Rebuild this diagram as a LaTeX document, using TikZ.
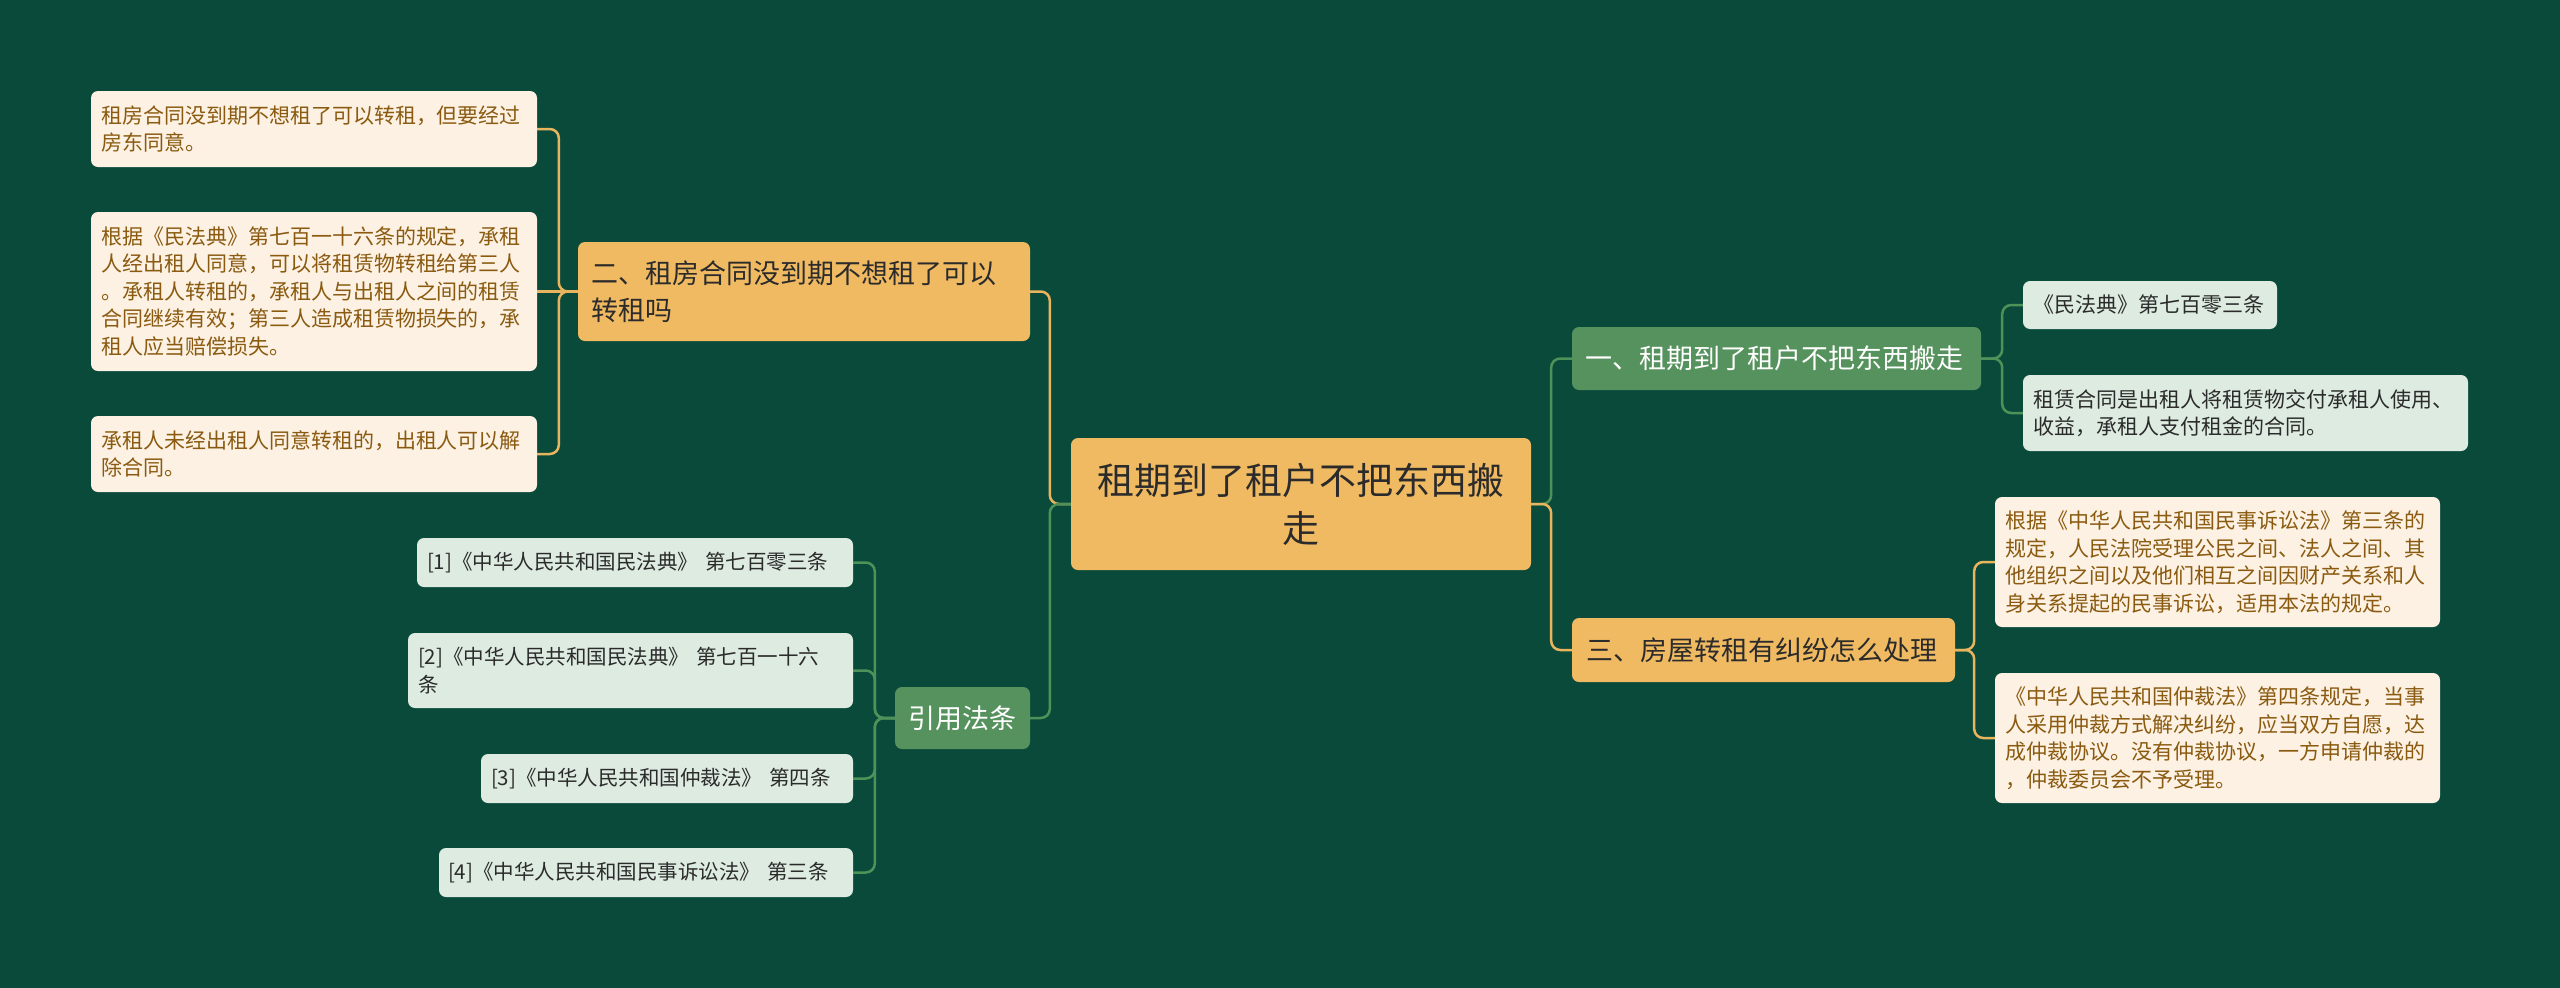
\documentclass[tikz,border=0pt]{standalone}
\usepackage{fontspec}
\setmainfont{Noto Sans CJK SC}
\usetikzlibrary{positioning,calc}
\definecolor{mapbg}{HTML}{0A4A3B}
\definecolor{maporange}{HTML}{F0BA62}
\definecolor{mapgreen}{HTML}{55925D}
\definecolor{mapcream}{HTML}{FCF1E2}
\definecolor{mapmint}{HTML}{DDEBE0}
\definecolor{mapbrown}{HTML}{8A5A10}
\definecolor{mapdark}{HTML}{2B2B2B}
\definecolor{lineorange}{HTML}{E8B55E}
\definecolor{linegreen}{HTML}{4F9259}
\tikzset{
  card/.style={rounded corners=7pt,inner ysep=0pt,align=left},
  wh/.style 2 args={minimum width=#1pt,minimum height=#2pt},
  rootbox/.style={card,fill=maporange,text=mapdark,align=center,inner xsep=20pt,font=\fontsize{37}{48}\selectfont},
  topicor/.style={card,fill=maporange,text=mapdark,inner xsep=13pt,font=\fontsize{27}{37}\selectfont},
  topicgr/.style={card,fill=mapgreen,text=white,inner xsep=13pt,font=\fontsize{27}{37}\selectfont},
  notecr/.style={card,fill=mapcream,text=mapbrown,inner xsep=10pt,font=\fontsize{21}{27.5}\selectfont},
  notemt/.style={card,fill=mapmint,text=mapdark,inner xsep=10pt,font=\fontsize{21}{27.5}\selectfont},
  citemt/.style={notemt,font=\fontsize{20.5}{27.5}\selectfont},
  lnor/.style={draw=lineorange,line width=2.5pt,rounded corners=9pt},
  lngr/.style={draw=linegreen,line width=2.5pt,rounded corners=9pt},
}

\begin{document}
\begin{tikzpicture}[x=1pt,y=-1pt]
  \fill[mapbg] (0,0) rectangle (2560,988);
  % centre
  \node[rootbox,wh={460}{132},text width=420pt] (root) at (1301,504) {租期到了租户不把东西搬\\走};
  % left branches
  \node[topicor,wh={452}{99},text width=426pt] (sublet) at (804,291.5) {二、租房合同没到期不想租了可以\\转租吗};
  \node[topicgr,wh={135}{62},text width=109pt,align=center] (cite) at (962.5,718) {引用法条};
  \node[notecr,wh={446}{76},text width=426pt] (sl1) at (314,129) {租房合同没到期不想租了可以转租，但要经过\\房东同意。};
  \node[notecr,wh={446}{159},text width=426pt] (sl2) at (314,291.5) {根据《民法典》第七百一十六条的规定，承租\\人经出租人同意，可以将租赁物转租给第三人\\。承租人转租的，承租人与出租人之间的租赁\\合同继续有效；第三人造成租赁物损失的，承\\租人应当赔偿损失。};
  \node[notecr,wh={446}{76},text width=426pt] (sl3) at (314,454) {承租人未经出租人同意转租的，出租人可以解\\除合同。};
  \node[citemt,wh={436}{49},text width=416pt] (ct1) at (635,562.5) {[1]《中华人民共和国民法典》 第七百零三条};
  \node[citemt,wh={445}{75},text width=425pt] (ct2) at (630.5,670.5) {[2]《中华人民共和国民法典》 第七百一十六\\条};
  \node[citemt,wh={372}{49},text width=352pt] (ct3) at (667,778.5) {[3]《中华人民共和国仲裁法》 第四条};
  \node[citemt,wh={414}{49},text width=396pt,inner xsep=9pt] (ct4) at (646,872.5) {[4]《中华人民共和国民事诉讼法》 第三条};
  % right branches
  \node[topicgr,wh={409}{63},text width=383pt] (due) at (1776.5,358.5) {一、租期到了租户不把东西搬走};
  \node[topicor,wh={383}{64},text width=355pt] (dispute) at (1763.5,650) {三、房屋转租有纠纷怎么处理};
  \node[notemt,wh={254}{48},text width=234pt] (du1) at (2150,305) {《民法典》第七百零三条};
  \node[notemt,wh={445}{76},text width=425pt] (du2) at (2245.5,413) {租赁合同是出租人将租赁物交付承租人使用、\\收益，承租人支付租金的合同。};
  \node[notecr,wh={445}{130},text width=425pt] (dp1) at (2217.5,562) {根据《中华人民共和国民事诉讼法》第三条的\\规定，人民法院受理公民之间、法人之间、其\\他组织之间以及他们相互之间因财产关系和人\\身关系提起的民事诉讼，适用本法的规定。};
  \node[notecr,wh={445}{130},text width=425pt] (dp2) at (2217.5,738) {《中华人民共和国仲裁法》第四条规定，当事\\人采用仲裁方式解决纠纷，应当双方自愿，达\\成仲裁协议。没有仲裁协议，一方申请仲裁的\\，仲裁委员会不予受理。};
  % junctions
  \coordinate (rootl) at ($(root.west)+(-21,0)$);
  \coordinate (rootr) at ($(root.east)+(20,0)$);
  \coordinate (subletj) at ($(sublet.west)+(-19,0)$);
  \coordinate (citej) at ($(cite.west)+(-20,0)$);
  \coordinate (duej) at ($(due.east)+(21,0)$);
  \coordinate (disputej) at ($(dispute.east)+(19,0)$);
  % connectors
  \draw[lnor] (root.west) -- (rootl) |- (sublet.east);
  \draw[lngr] (root.west) -- (rootl) |- (cite.east);
  \draw[lngr] (root.east) -- (rootr) |- (due.west);
  \draw[lnor] (root.east) -- (rootr) |- (dispute.west);
  \foreach \n in {sl1,sl3} \draw[lnor] (sublet.west) -- (subletj) |- (\n.east);
  \draw[lnor] (sublet.west) -- (sl2.east);
  \foreach \n in {ct1,ct2,ct3,ct4} \draw[lngr] (cite.west) -- (citej) |- (\n.east);
  \foreach \n in {du1,du2} \draw[lngr] (due.east) -- (duej) |- (\n.west);
  \foreach \n in {dp1,dp2} \draw[lnor] (dispute.east) -- (disputej) |- (\n.west);
\end{tikzpicture}
\end{document}
